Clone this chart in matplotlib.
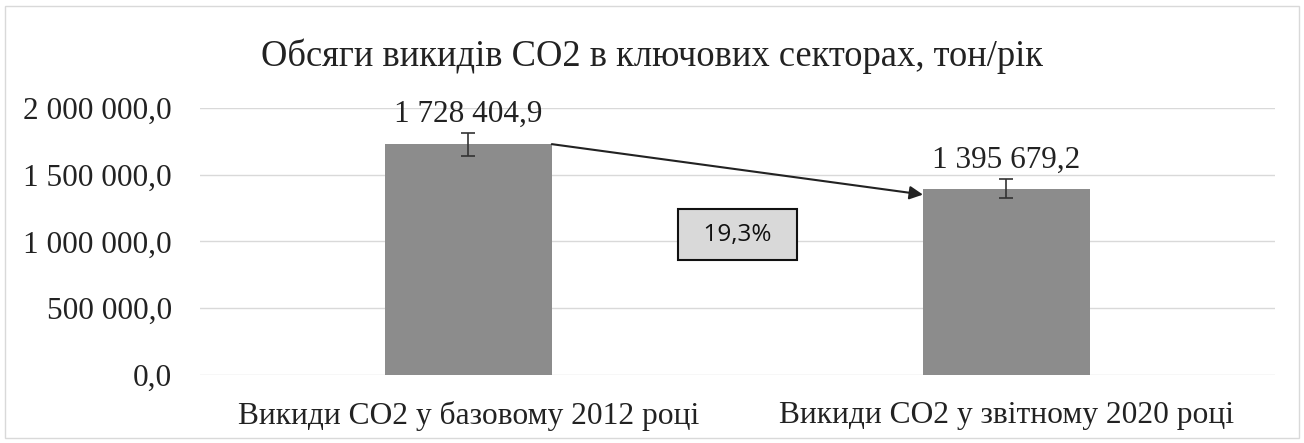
import matplotlib.pyplot as plt
from matplotlib.patches import Rectangle

categories = ["Викиди СО2 у базовому 2012 році", "Викиди СО2 у звітному 2020 році"]
values = [1728404.9, 1395679.2]
errors = [v * 0.05 for v in values]
value_labels = ["1 728 404,9", "1 395 679,2"]
y_ticks = [0, 500000, 1000000, 1500000, 2000000]
y_tick_labels = ["0,0", "500 000,0", "1 000 000,0", "1 500 000,0", "2 000 000,0"]
change_label = "19,3%"

plt.rcParams['font.family'] = ['Liberation Serif', 'DejaVu Serif']

fig = plt.figure(figsize=(13.04, 4.43), dpi=100)
ax = fig.add_axes([0.153, 0.1535, 0.825, 0.603])

x = range(len(categories))
bar_w = 0.31
ax.bar(x, values, width=bar_w, color='#8c8c8c', zorder=2)
ax.errorbar(x, values, yerr=errors, fmt='none', ecolor='#333333', elinewidth=1.2,
            capsize=5, capthick=1.2, zorder=3)

for i, v in enumerate(values):
    ax.text(i, v + errors[i] + 30000, value_labels[i], ha='center', va='bottom',
            fontsize=22.5, color='#222222')

# arrow from the top of first bar to the second bar
ax.annotate('', xy=(1 - bar_w / 2, values[1] - 45000), xytext=(bar_w / 2, values[0]),
            arrowprops=dict(arrowstyle='-|>', color='#222222', lw=1.5,
                            mutation_scale=20, shrinkA=0, shrinkB=0), zorder=4)

ax.text(0.5, 1050000, "  " + change_label + "  ", ha='center', va='center', fontsize=17.5,
        family=['Open Sans', 'DejaVu Sans'], color='#111111',
        bbox=dict(boxstyle='square,pad=0.55', facecolor='#d9d9d9', edgecolor='#111111', lw=1.5),
        zorder=5)

ax.set_xlim(-0.5, 1.5)
ax.set_ylim(0, 2000000)
ax.set_yticks(y_ticks)
ax.set_yticklabels(y_tick_labels, fontsize=22.5, color='#222222')
ax.set_xticks(list(x))
ax.set_xticklabels(categories, fontsize=22.7, color='#222222')
ax.tick_params(length=0)
ax.tick_params(axis='x', pad=19)
ax.tick_params(axis='y', pad=20)
ax.grid(axis='y', color='#d9d9d9', lw=1, zorder=0)
for s in ax.spines.values():
    s.set_visible(False)

fig.text(0.5, 0.872, "Обсяги викидів СО2 в ключових секторах, тон/рік", ha='center',
         va='center', fontsize=26.3, color='#222222')

fig.patches.append(Rectangle((0.004, 0.012), 0.992, 0.974, transform=fig.transFigure,
                             fill=False, edgecolor='#d9d9d9', lw=1))

fig.savefig("out.png", dpi=100)
